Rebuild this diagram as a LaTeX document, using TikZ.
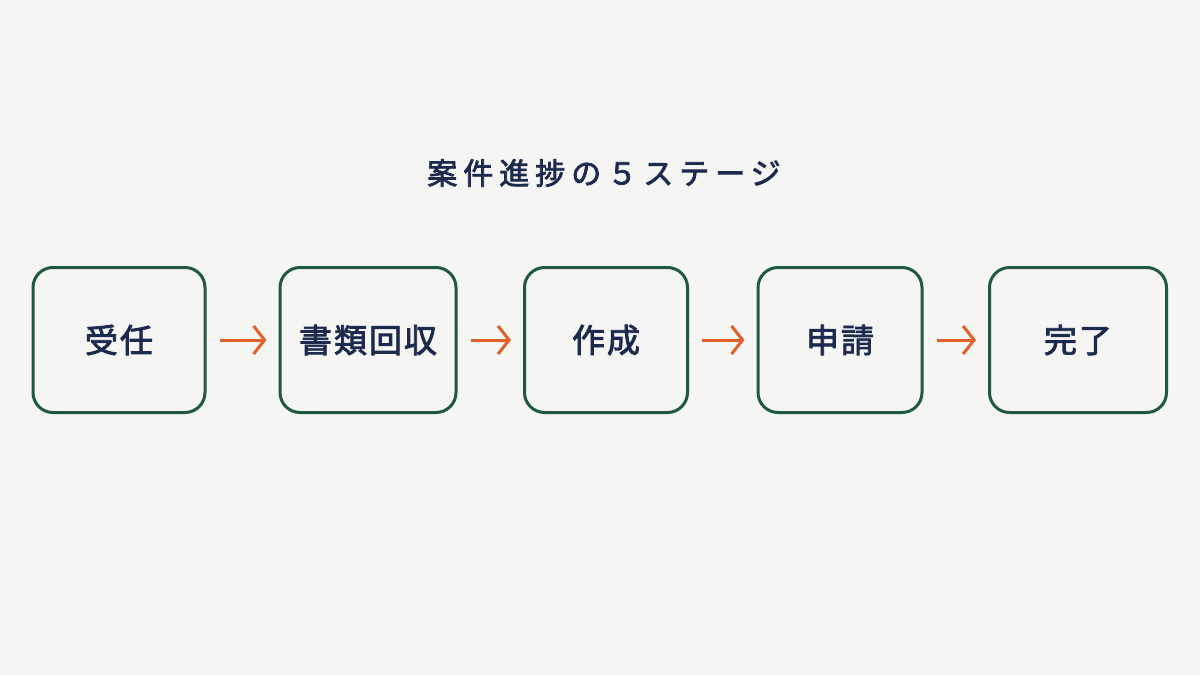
\documentclass[tikz,border=0pt]{standalone}
\usepackage{fontspec}
\usepackage{tikz}
\usetikzlibrary{arrows.meta}
\usetikzlibrary{positioning}

\newfontfamily\jpfont[LetterSpace=6, FakeBold=2.5]{Noto Sans CJK JP}
\newfontfamily\jptitle[LetterSpace=20, FakeBold=2.5]{Noto Sans CJK JP}

\definecolor{paper}{HTML}{F5F5F3}
\definecolor{boxgreen}{HTML}{1F5A3C}
\definecolor{inkblue}{HTML}{1B2A4E}
\definecolor{arroworange}{HTML}{E2602A}

\begin{document}
\begin{tikzpicture}[x=1pt, y=-1pt,
        stage/.style={draw=boxgreen, line width=3pt, rounded corners=20pt,
            minimum height=145pt, inner sep=0pt, text=inkblue,
            font=\jpfont\fontsize{33}{40}\selectfont},
        flow/.style={draw=arroworange, line width=3pt,
            -{Straight Barb[length=11pt,width=28pt]},
            shorten <=13pt, shorten >=12pt}]

        % paper and page size
        \fill[paper] (0,0) rectangle (1200,675);
        \useasboundingbox (0,0) rectangle (1200,675);

        % Title
        \node (title) [text=inkblue, font=\jptitle\fontsize{30}{36}\selectfont]
            at (604, 173) {案件進捗の５ステージ};

        % The five stages, left to right
        \node (juin)    [stage, minimum width=172pt] at (119, 340) {受任};
        \node (shorui)  [stage, minimum width=176pt] at (368, 340) {書類回収};
        \node (sakusei) [stage, minimum width=163pt] at (606, 340) {作成};
        \node (shinsei) [stage, minimum width=164pt] at (840, 340) {申請};
        \node (kanryo)  [stage, minimum width=177pt] at (1078, 340) {完了};

        % Arrows between the stages
        \draw[flow] (juin) -- (shorui);
        \draw[flow] (shorui) -- (sakusei);
        \draw[flow] (sakusei) -- (shinsei);
        \draw[flow] (shinsei) -- (kanryo);
\end{tikzpicture}
\end{document}
